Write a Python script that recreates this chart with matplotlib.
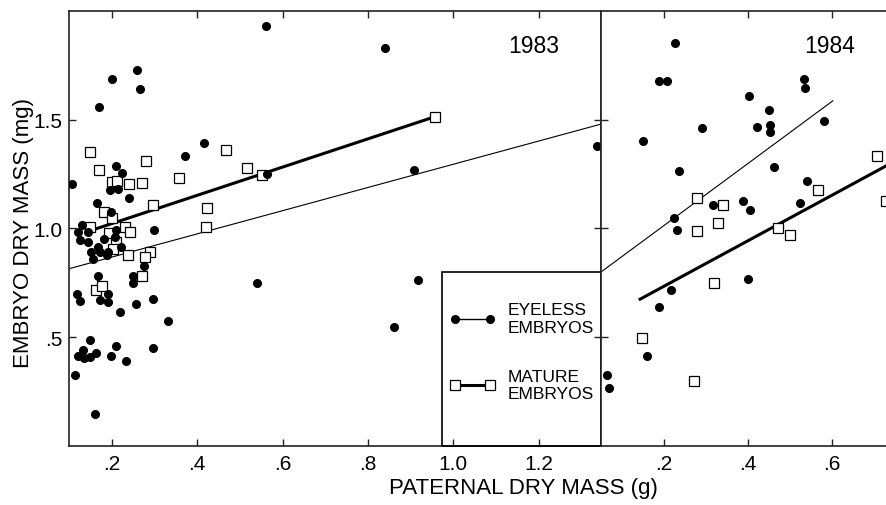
import matplotlib
matplotlib.use("Agg")
import matplotlib.pyplot as plt
from matplotlib.lines import Line2D
from matplotlib.patches import Rectangle

plt.rcParams['font.family'] = ['Liberation Sans', 'DejaVu Sans']

# 1983 eyeless embryos (dots)
eyeless83_x = [0.107, 0.201, 0.259, 0.266, 0.170, 0.561, 0.416, 0.372, 0.210, 0.224,
               0.196, 0.215, 0.241, 0.166, 0.198, 0.299, 0.564, 0.130, 0.121, 0.144,
               0.126, 0.144, 0.210, 0.208, 0.182, 0.168, 0.222, 0.152, 0.173, 0.191,
               0.156, 0.189, 0.276, 0.168, 0.250, 0.250, 0.119, 0.191, 0.126, 0.173,
               0.191, 0.257, 0.297, 0.219, 0.332, 0.149, 0.133, 0.121, 0.135, 0.149,
               0.163, 0.210, 0.297, 0.198, 0.233, 0.114, 0.161, 0.540, 0.917, 0.861,
               0.840, 0.908, 1.337]
eyeless83_y = [1.206, 1.688, 1.729, 1.642, 1.560, 1.931, 1.394, 1.335, 1.289, 1.257,
               1.179, 1.183, 1.142, 1.119, 1.078, 0.995, 1.252, 1.018, 0.982, 0.982,
               0.945, 0.940, 0.995, 0.959, 0.954, 0.917, 0.917, 0.894, 0.890, 0.894,
               0.862, 0.876, 0.826, 0.780, 0.780, 0.748, 0.697, 0.697, 0.665, 0.670,
               0.661, 0.651, 0.674, 0.615, 0.573, 0.486, 0.440, 0.413, 0.404, 0.408,
               0.427, 0.459, 0.450, 0.413, 0.390, 0.326, 0.147, 0.748, 0.761, 0.546,
               1.830, 1.271, 1.381]

# 1983 mature embryos (squares)
mature83_x = [0.149, 0.170, 0.280, 0.358, 0.201, 0.212, 0.241, 0.271, 0.297, 0.423,
              0.182, 0.201, 0.149, 0.231, 0.243, 0.194, 0.210, 0.421, 0.468, 0.517,
              0.552, 0.957, 0.203, 0.238, 0.290, 0.278, 0.271, 0.163, 0.177]
mature83_y = [1.353, 1.271, 1.312, 1.234, 1.216, 1.220, 1.206, 1.211, 1.106, 1.096,
              1.078, 1.046, 1.009, 1.005, 0.986, 0.977, 0.940, 1.005, 1.362, 1.280,
              1.248, 1.514, 0.904, 0.876, 0.890, 0.867, 0.780, 0.716, 0.734]

# 1984 eyeless embryos (dots)
eyeless84_x = [0.226, 0.188, 0.207, 0.533, 0.536, 0.402, 0.450, 0.421, 0.452, 0.452,
               0.290, 0.581, 0.150, 0.236, 0.462, 0.540, 0.317, 0.388, 0.405, 0.524,
               0.224, 0.231, 0.217, 0.400, 0.188, 0.160, 0.064, 0.069]
eyeless84_y = [1.853, 1.679, 1.679, 1.688, 1.647, 1.610, 1.546, 1.468, 1.477, 1.445,
               1.463, 1.495, 1.404, 1.266, 1.284, 1.220, 1.110, 1.128, 1.087, 1.115,
               1.046, 0.995, 0.716, 0.766, 0.638, 0.413, 0.326, 0.266]

# 1984 mature embryos (squares)
mature84_x = [0.707, 0.729, 0.567, 0.279, 0.340, 0.329, 0.279, 0.471, 0.500, 0.319,
              0.148, 0.271]
mature84_y = [1.335, 1.128, 1.179, 1.138, 1.106, 1.023, 0.990, 1.000, 0.972, 0.748,
              0.495, 0.298]

# regression lines (end points)
fit_eyeless83_x = [0.10, 1.346]
fit_eyeless83_y = [0.815, 1.48]
fit_mature83_x = [0.15, 0.957]
fit_mature83_y = [0.99, 1.514]
fit_eyeless84_x = [0.05, 0.602]
fit_eyeless84_y = [0.80, 1.587]
fit_mature84_x = [0.143, 0.731]
fit_mature84_y = [0.675, 1.29]

yticks = [0.5, 1.0, 1.5]
ytick_labels = ['.5', '1.0', '1.5']
xticks83 = [0.2, 0.4, 0.6, 0.8, 1.0, 1.2]
xtick_labels83 = ['.2', '.4', '.6', '.8', '1.0', '1.2']
xticks84 = [0.2, 0.4, 0.6]
xtick_labels84 = ['.2', '.4', '.6']

spineColor = '#222222'

fig = plt.figure(figsize=(8.87, 5.06), dpi=100)
ax1 = fig.add_axes([0.0778, 0.1166, 0.5998, 0.8597])
ax2 = fig.add_axes([0.6776, 0.1166, 0.3224, 0.8597], sharey=ax1)

for ax in (ax1, ax2):
    for s in ax.spines.values():
        s.set_color(spineColor)
        s.set_linewidth(1.2)
    ax.tick_params(direction='in', length=5, width=1, color=spineColor,
                   top=True, labelsize=15, pad=6)

# 1983 panel
ax1.plot(fit_eyeless83_x, fit_eyeless83_y, color='black', lw=0.8, zorder=2)
ax1.plot(fit_mature83_x, fit_mature83_y, color='black', lw=2.2, zorder=2)
ax1.plot(mature83_x, mature83_y, ls='none', marker='s', ms=7, mfc='white',
         mec='black', mew=0.9, zorder=3)
ax1.plot(eyeless83_x, eyeless83_y, ls='none', marker='o', ms=5.5, color='black', zorder=4)
ax1.set_xlim(0.1, 1.346)
ax1.set_ylim(0, 2.0)
ax1.set_xticks(xticks83)
ax1.set_xticklabels(xtick_labels83)
ax1.set_yticks(yticks)
ax1.set_yticklabels(ytick_labels)
ax1.tick_params(axis='y', right=True, pad=5)
ax1.text(0.874, 0.92, '1983', transform=ax1.transAxes, fontsize=16.5, ha='center', va='center')

# legend box in the 1983 panel
ax1.add_patch(Rectangle((0.973, 0), 1.346 - 0.973, 0.80, fill=False, lw=1.2,
                        ec='black', zorder=5, clip_on=False))
handles = [Line2D([], [], color='black', lw=1.0, marker='o', ms=5.5),
           Line2D([], [], color='black', lw=2.2, marker='s', ms=7, mfc='white', mec='black', mew=0.9)]
ax1.legend(handles, ['EYELESS\nEMBRYOS', 'MATURE\nEMBRYOS'], loc='upper left',
           bbox_to_anchor=(0.716, 0.330), frameon=False, numpoints=2, fontsize=12.5,
           handlelength=2.6, handletextpad=0.75, labelspacing=1.95, borderpad=0,
           borderaxespad=0)

# 1984 panel
ax2.plot(fit_eyeless84_x, fit_eyeless84_y, color='black', lw=0.8, zorder=2)
ax2.plot(fit_mature84_x, fit_mature84_y, color='black', lw=2.2, zorder=2)
ax2.plot(mature84_x, mature84_y, ls='none', marker='s', ms=7, mfc='white',
         mec='black', mew=0.9, zorder=3)
ax2.plot(eyeless84_x, eyeless84_y, ls='none', marker='o', ms=5.5, color='black', zorder=4)
ax2.set_xlim(0.05, 0.731)
ax2.set_xticks(xticks84)
ax2.set_xticklabels(xtick_labels84)
ax2.spines['right'].set_visible(False)
ax2.tick_params(axis='y', left=True, right=False, labelleft=False)
ax2.text(0.80, 0.92, '1984', transform=ax2.transAxes, fontsize=16.5, ha='center', va='center')

fig.text(0.026, 0.54, 'EMBRYO DRY MASS (mg)', rotation=90, fontsize=16,
         ha='center', va='center')
fig.text(0.59, 0.035, 'PATERNAL DRY MASS (g)', fontsize=16, ha='center', va='center')

fig.savefig('out.png', dpi=100, facecolor='white')
